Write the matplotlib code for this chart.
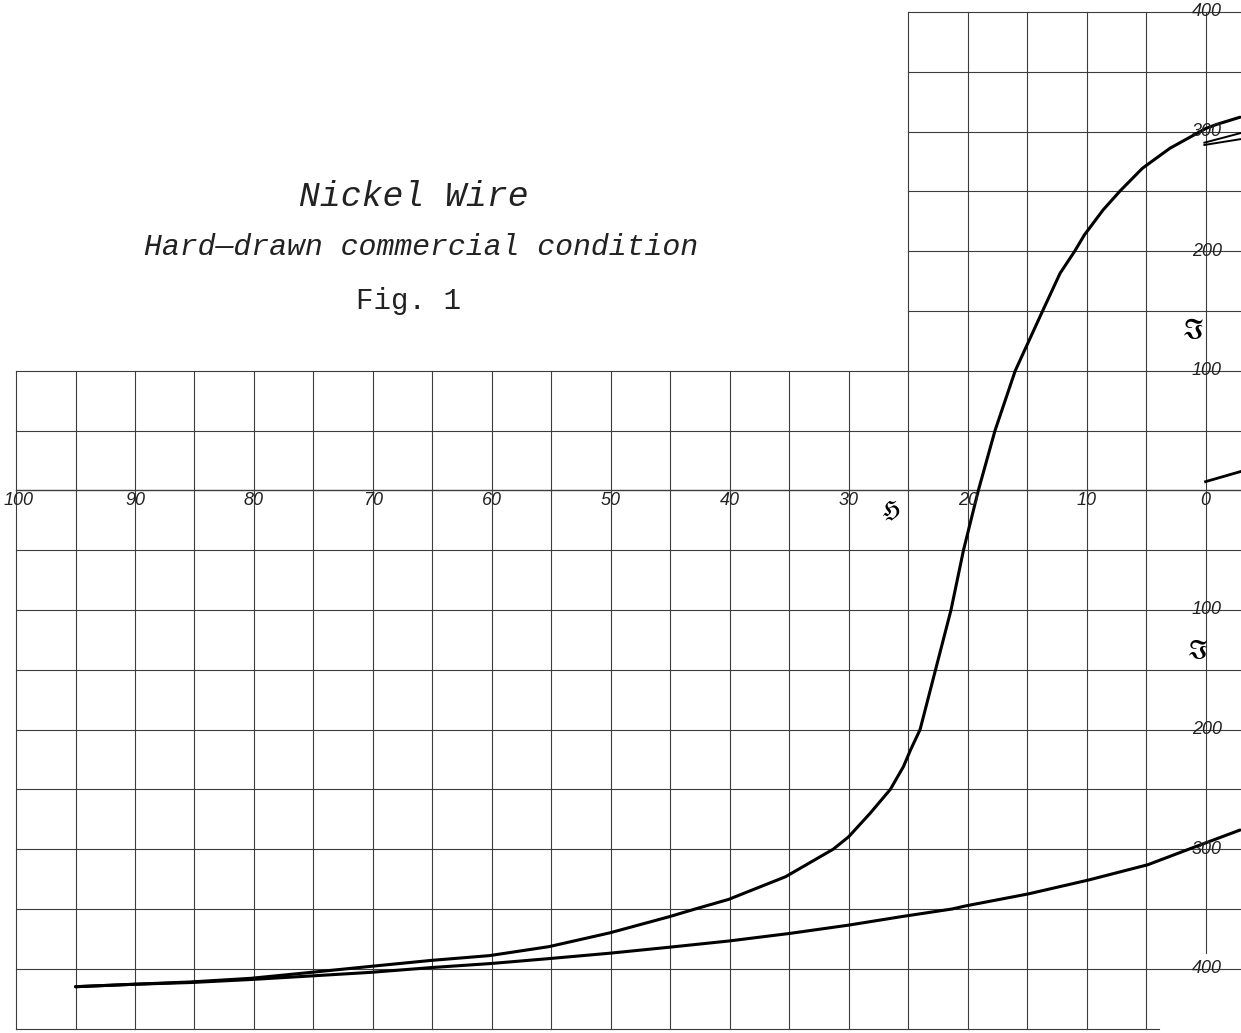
import matplotlib
matplotlib.use("Agg")
import matplotlib.pyplot as plt
import numpy as np

# ---- data (H = field, I = magnetisation) ----
# descending branch (from positive saturation down to negative)
desc_H = [-2.9, -0.94, 0.0, 3.0, 5.31, 7.19, 8.62, 10.19, 11.0, 12.23, 13.27,
          13.7, 16.0, 17.7, 19.1, 20.35, 21.4, 22.7, 24.0, 24.8, 25.4,
          26.5, 28.2, 30.0, 31.3, 35.3, 40.1, 42.9, 45.1, 50.1, 55.2,
          60.2, 65.1, 70.2, 75.2, 80.3, 85.3, 90.2, 95.0]
desc_I = [312, 306, 302.5, 286, 269.3, 250.3, 234.4, 213.5, 200, 181.5, 159.2,
          150, 100, 50, 0, -50, -100, -150, -200, -217, -231,
          -250, -270, -289.6, -300, -323, -342, -350, -356.5, -370, -381.5,
          -389, -393, -398, -403, -408, -411, -413, -415]

# ascending branch (from negative saturation upward)
asc_H = [95.0, 90.2, 85.3, 80.3, 75.2, 70.2, 65.1, 60.2, 55.2, 50.1, 45.1,
         40.1, 35.0, 30.0, 25.5, 21.3, 20.2, 14.9, 9.8, 4.85, 1.4, -2.9]
asc_I = [-415, -413, -411.5, -409, -406, -403, -399, -395.7, -391.5, -387, -382,
         -376.8, -370.5, -363.5, -356.3, -350, -347.5, -337.4, -325.7, -313, -300, -284]

# short strokes at the right edge
stroke_low_H = [0.0, -2.9]
stroke_low_I = [7.3, 15.6]
wedge_a_H = [0.1, -2.9]
wedge_a_I = [290.7, 298.6]
wedge_b_H = [0.1, -2.9]
wedge_b_I = [288.8, 293.6]

x_tick_values = [100, 90, 80, 70, 60, 50, 40, 30, 20, 10, 0]
x_tick_labels = ["100", "90", "80", "70", "60", "50", "40", "30", "20", "10", "0"]
y_tick_values = [400, 300, 200, 100, -100, -200, -300, -400]
y_tick_labels = ["400", "300", "200", "100", "100", "200", "300", "400"]

title1 = "Nickel Wire"
title2 = "Hard\u2014drawn commercial condition"
title3 = "Fig. 1"

# ---- figure ----
fig = plt.figure(figsize=(12.41, 10.33), dpi=100)
ax = fig.add_axes([0, 0, 1, 1])
ax.set_xlim(101.35, -2.98)
ax.set_ylim(-453.7, 410)
ax.axis("off")

gc = "#3c3c3c"
glw = 0.8
right_edge = -2.98

# upper grid (H 25..0, I 100..400)
for h in np.arange(25, -1, -5):
    ax.plot([h, h], [100, 400], color=gc, lw=glw, zorder=1)
for i in np.arange(400, 149, -50):
    ax.plot([25, right_edge], [i, i], color=gc, lw=glw, zorder=1)

# lower grid (H 100..0, I 100..-450)
for h in np.arange(100, 4, -5):
    ax.plot([h, h], [100, -450], color=gc, lw=glw, zorder=1)
ax.plot([0, 0], [100, -387], color=gc, lw=glw, zorder=1)
for i in np.arange(100, -401, -50):
    ax.plot([100, right_edge], [i, i], color=gc, lw=glw if i != 0 else 1.0, zorder=1)
ax.plot([100, 3.9], [-450, -450], color=gc, lw=glw, zorder=1)

# curves
ax.plot(desc_H, desc_I, color="black", lw=2.2, solid_capstyle="round",
        solid_joinstyle="round", zorder=3)
ax.plot(asc_H, asc_I, color="black", lw=2.2, solid_capstyle="round",
        solid_joinstyle="round", zorder=3)
ax.plot(stroke_low_H, stroke_low_I, color="black", lw=2.0, zorder=3)
ax.plot(wedge_a_H, wedge_a_I, color="black", lw=1.4, zorder=3)
ax.plot(wedge_b_H, wedge_b_I, color="black", lw=1.4, zorder=3)

# tick labels
tick_font = dict(family="Liberation Sans", style="italic", fontsize=13, color="#222222")
for v, s in zip(x_tick_values, x_tick_labels):
    xx = v - 0.2 if v == 100 else v
    ax.text(xx, -1.5, s, ha="center", va="top", zorder=4, **tick_font)
for v, s in zip(y_tick_values, y_tick_labels):
    ax.text(-0.1, v, s, ha="center", va="center", zorder=4, **tick_font)

# axis symbols
ax.text(1.07, 133.7, r"$\mathfrak{I}$", ha="center", va="center", fontsize=20, zorder=4)
ax.text(0.65, -134.7, r"$\mathfrak{I}$", ha="center", va="center", fontsize=19, zorder=4)
ax.text(26.48, -17.3, r"$\mathfrak{H}$", ha="center", va="center", fontsize=16, zorder=4)

# titles
ax.text(66.56, 245.3, title1, ha="center", va="center",
        family="Liberation Mono", style="italic", fontsize=25, color="#222222")
ax.text(65.97, 203.5, title2, ha="center", va="center",
        family="Liberation Mono", style="italic", fontsize=21.5, color="#222222")
ax.text(66.98, 158.3, title3, ha="center", va="center",
        family="Liberation Mono", fontsize=21, color="#222222")

fig.savefig("out.png", dpi=100)
